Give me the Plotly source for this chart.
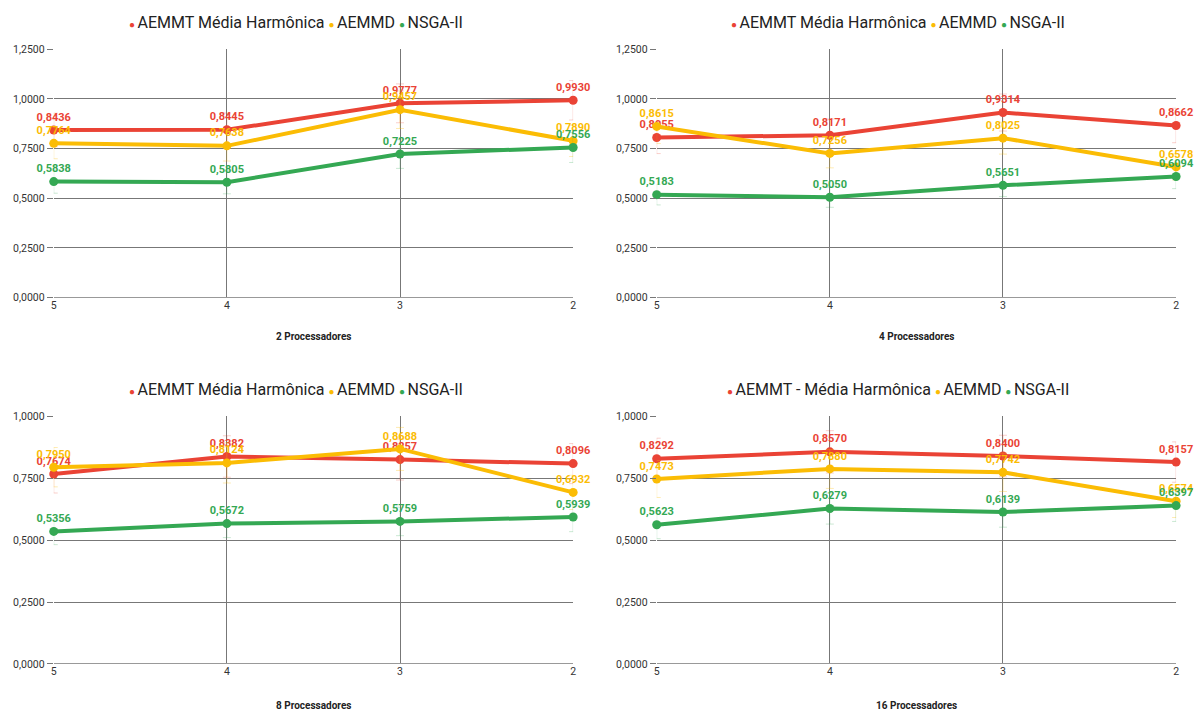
import plotly.graph_objects as go

categories = ["5", "4", "3", "2"]
series_names = ["AEMMT Média Harmônica", "AEMMD", "NSGA-II"]
series_names_16 = ["AEMMT - Média Harmônica", "AEMMD", "NSGA-II"]
panel_titles = ["2 Processadores", "4 Processadores", "8 Processadores", "16 Processadores"]

p2_aemmt = [0.8436, 0.8445, 0.9777, 0.9930]
p2_aemmd = [0.7764, 0.7638, 0.9457, 0.7890]
p2_nsga = [0.5838, 0.5805, 0.7225, 0.7556]

p4_aemmt = [0.8055, 0.8171, 0.9314, 0.8662]
p4_aemmd = [0.8615, 0.7256, 0.8025, 0.6578]
p4_nsga = [0.5183, 0.5050, 0.5651, 0.6094]

p8_aemmt = [0.7674, 0.8382, 0.8257, 0.8096]
p8_aemmd = [0.7950, 0.8124, 0.8688, 0.6932]
p8_nsga = [0.5356, 0.5672, 0.5759, 0.5939]

p16_aemmt = [0.8292, 0.8570, 0.8400, 0.8157]
p16_aemmd = [0.7473, 0.7880, 0.7742, 0.6574]
p16_nsga = [0.5623, 0.6279, 0.6139, 0.6397]

y_max = [1.25, 1.25, 1.0, 1.0]
error_percent = 10

colors = ["#EA4335", "#FBBC04", "#34A853"]
err_colors = ["rgba(234,67,53,0.25)", "rgba(251,188,4,0.3)", "rgba(52,168,83,0.25)"]

panels = [
    (p2_aemmt, p2_aemmd, p2_nsga),
    (p4_aemmt, p4_aemmd, p4_nsga),
    (p8_aemmt, p8_aemmd, p8_nsga),
    (p16_aemmt, p16_aemmd, p16_nsga),
]

W, H = 1198, 721
x_doms = [(51 / W, 573 / W), (657 / W, 1179 / W)]
y_doms = [(1 - 297 / H, 1 - 44 / H), (1 - 670 / H, 1 - 418 / H)]
legend_cx = [294 / W, 900 / W]
legend_cy = [1 - 17 / H, 1 - 391 / H]
title_cy = [1 - 337 / H, 1 - 712 / H]

fig = go.Figure()

def fmt(v):
    return f"{v:.4f}".replace(".", ",")

for i, data in enumerate(panels):
    row, col = divmod(i, 2)
    ax = "" if i == 0 else str(i + 1)
    names = series_names_16 if i == 3 else series_names
    for s, vals in enumerate(data):
        fig.add_trace(go.Scatter(
            x=categories, y=vals, name=names[s],
            mode="lines+markers+text",
            text=[fmt(v) for v in vals],
            textposition="top center",
            textfont=dict(color=colors[s], size=11, family="Roboto", weight="bold"),
            line=dict(color=colors[s], width=4),
            marker=dict(color=colors[s], size=9),
            error_y=dict(type="percent", value=error_percent, color=err_colors[s], thickness=1, width=4),
            cliponaxis=False, showlegend=False,
            xaxis="x" + ax, yaxis="y" + ax,
        ))
    xd = x_doms[col]
    yd = y_doms[row]
    fig.update_layout(**{
        "xaxis" + ax: dict(
            domain=list(xd), anchor="y" + ax, type="category", range=[0, 3],
            showgrid=True, gridcolor="#777", gridwidth=1,
            showline=False, zeroline=False,
            tickfont=dict(size=10.5, color="#333", family="Roboto"),
            ticks="", fixedrange=True,
        ),
        "yaxis" + ax: dict(
            domain=list(yd), anchor="x" + ax, range=[0, y_max[i]], dtick=0.25,
            tickformat=".4f", showgrid=True, gridcolor="#777", gridwidth=1,
            zeroline=True, zerolinecolor="#999", zerolinewidth=1,
            ticks="outside", ticklen=6, tickcolor="#777",
            tickfont=dict(size=10.5, color="#333", family="Roboto"),
        ),
    })
    legend_text = "\u00a0".join(
        f"<span style='color:{colors[s]};font-size:10px'>●\u00a0</span>{names[s]}" for s in range(3)
    )
    fig.add_annotation(
        text=legend_text, xref="paper", yref="paper",
        x=legend_cx[col], y=legend_cy[row], showarrow=False,
        font=dict(size=16, color="#222", family="Roboto"),
        xanchor="center", yanchor="middle",
    )
    fig.add_annotation(
        text="<b>" + panel_titles[i] + "</b>", xref="paper", yref="paper",
        x=(xd[0] + xd[1]) / 2, y=title_cy[row],
        showarrow=False, font=dict(size=10, color="#222", family="Roboto"),
        xanchor="center", yanchor="middle",
    )

fig.update_layout(
    width=W, height=H, margin=dict(l=0, r=0, t=0, b=0),
    paper_bgcolor="white", plot_bgcolor="white",
    separators=",.", showlegend=False,
)

fig.write_html(
    "out.html",
    config={"displayModeBar": False},
    post_script="document.body.style.margin='0';document.body.style.overflow='hidden';",
)
